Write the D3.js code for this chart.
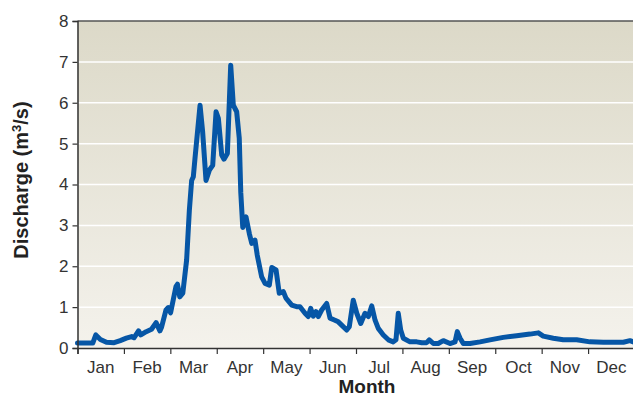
<!DOCTYPE html>
<html><head><meta charset="utf-8">
<script src="https://cdn.jsdelivr.net/npm/d3@7"></script>
<style>
html,body{margin:0;padding:0;background:#fff;}
svg{display:block;}
text{font-family:"Liberation Sans Narrow","Arial Narrow","Liberation Sans",sans-serif;fill:#333;}
</style></head>
<body>
<svg id="chart" width="633" height="398"></svg>
<script>
// ---- data (day of year, discharge m3/s) ----
const days = [0,10,12,15,19,24,28,32,35.5,37,40,41.5,45,48.5,51.5,54,55,58,59.5,61,64.5,65.5,67,69,71.5,73.3,74.8,75.9,77,80.3,82,84.2,86.4,88.6,90.8,92.3,94.5,96,98.2,100.4,102.1,104.3,106,107,108.3,110.4,112.6,114.2,116.3,117.8,120.7,122.9,125.7,127.3,130.1,132.2,134.9,136.6,140.4,143.6,145.8,149.1,151.2,152.8,154.5,156.3,157.8,160,163.3,165.5,168.7,170.9,173.1,176.4,178.1,180.7,183,185.6,188.4,190.6,192.8,195,197.1,200.4,203.7,206.9,208.7,210.2,211.8,213.5,217.9,222.3,225.6,228.8,230.5,233.2,236.4,239.7,244.1,247.4,248.9,250.7,252.8,257.2,263.8,270.3,279,287.8,296.5,302,305.2,311.8,318.3,327.1,335.8,344.6,357.7,362,365];
const discharge = [0.12,0.12,0.32,0.21,0.14,0.13,0.18,0.24,0.28,0.25,0.42,0.32,0.40,0.46,0.62,0.42,0.50,0.93,0.99,0.86,1.50,1.56,1.25,1.34,2.15,3.37,4.10,4.19,4.64,5.94,5.29,4.10,4.35,4.47,5.78,5.62,4.72,4.62,4.76,6.92,5.94,5.78,5.13,3.80,2.95,3.21,2.80,2.56,2.64,2.27,1.74,1.58,1.54,1.97,1.91,1.34,1.38,1.22,1.05,1.01,1.01,0.85,0.77,0.97,0.78,0.89,0.77,0.93,1.09,0.73,0.68,0.64,0.56,0.44,0.52,1.17,0.85,0.60,0.85,0.77,1.03,0.68,0.48,0.32,0.20,0.15,0.20,0.85,0.44,0.24,0.15,0.15,0.13,0.13,0.20,0.11,0.11,0.18,0.11,0.15,0.40,0.24,0.11,0.11,0.15,0.20,0.26,0.30,0.34,0.37,0.29,0.24,0.20,0.20,0.15,0.14,0.14,0.18,0.14];
const months = ["Jan","Feb","Mar","Apr","May","Jun","Jul","Aug","Sep","Oct","Nov","Dec"];
const yTicks = [0,1,2,3,4,5,6,7,8];
const xTitle = "Month";

const svg = d3.select("#chart");
const L = 77.5, R = 634.5, T = 21, B = 348;
const x = d3.scaleLinear().domain([0,12]).range([L,R]);
const y = d3.scaleLinear().domain([0,8]).range([B,T]);
const band = d3.scaleBand().domain(months).range([L,R]);

const defs = svg.append("defs");
const grad = defs.append("linearGradient").attr("id","bg").attr("x1",0).attr("y1",0).attr("x2",0).attr("y2",1);
grad.append("stop").attr("offset","0%").attr("stop-color","#dcd9c8");
grad.append("stop").attr("offset","100%").attr("stop-color","#f4f2ec");

svg.append("rect").attr("x",L).attr("y",T).attr("width",R-L).attr("height",B-T).attr("fill","url(#bg)");

// grid
svg.append("g").selectAll("line").data(yTicks.filter(d=>d>0&&d<8)).join("line")
  .attr("x1",L).attr("x2",R).attr("y1",d=>y(d)).attr("y2",d=>y(d))
  .attr("stroke","#fff").attr("stroke-width",1.5);

// top border
svg.append("line").attr("x1",L).attr("x2",R).attr("y1",T).attr("y2",T).attr("stroke","#555").attr("stroke-width",1.5);

// line
const line = d3.line().x((d,i)=>x(days[i]/365*12)).y(d=>y(d));
svg.append("path").datum(discharge).attr("d",line)
  .attr("fill","none").attr("stroke","#0656a6").attr("stroke-width",5)
  .attr("stroke-linejoin","round").attr("stroke-linecap","round");

// y axis
const ya = svg.append("g").attr("transform",`translate(${L},0)`)
  .call(d3.axisLeft(y).tickValues(yTicks).tickSize(5).tickPadding(4).tickFormat(d3.format("d")));
ya.select(".domain").attr("stroke","#333").attr("stroke-width",1.5);
ya.selectAll(".tick line").attr("stroke","#333").attr("stroke-width",1.2);
ya.selectAll("text").attr("font-size",17).style("fill","#333").attr("font-family",null);

// x axis ticks
const xa = svg.append("g").attr("transform",`translate(0,${B})`)
  .call(d3.axisBottom(x).tickValues(d3.range(0,12)).tickSize(6).tickFormat(""));
xa.select(".domain").attr("stroke","#333").attr("stroke-width",1.5);
xa.selectAll(".tick line").attr("stroke","#333").attr("stroke-width",1.2);
const xl = svg.append("g").attr("transform",`translate(0,${B})`)
  .call(d3.axisBottom(band).tickSize(0).tickPadding(13));
xl.select(".domain").remove();
xl.selectAll("text").attr("font-size",17).style("fill","#333").attr("font-family",null);

// titles
svg.append("text").attr("x",367).attr("y",393).attr("text-anchor","middle")
  .attr("font-size",19).attr("font-weight","bold").style("fill","#222").text(xTitle);
const yt = svg.append("text").attr("transform","translate(28,180) rotate(-90)").attr("text-anchor","middle")
  .attr("font-size",20).attr("font-weight","bold").style("fill","#222");
yt.append("tspan").text("Discharge  (m");
yt.append("tspan").attr("font-size",13).attr("dy",-7).text("3");
yt.append("tspan").attr("dy",7).text("/s)");
</script>
</body></html>
